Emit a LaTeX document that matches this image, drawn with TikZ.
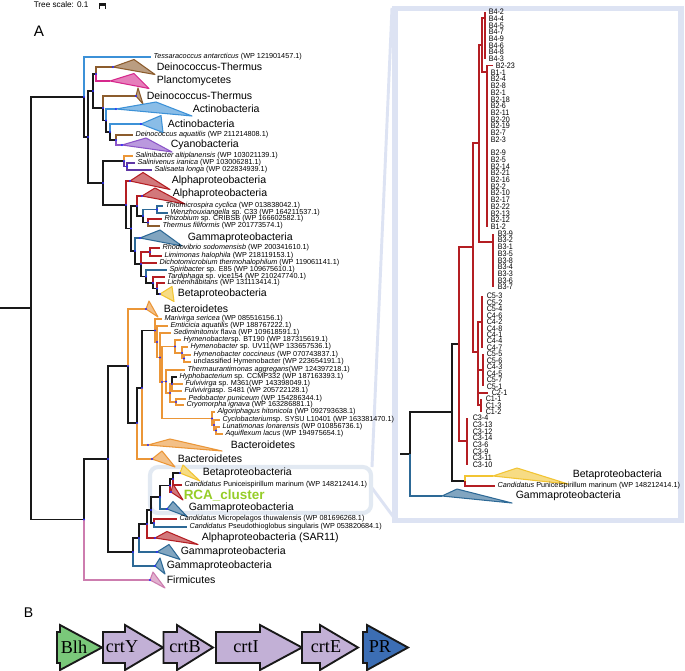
\documentclass[tikz,border=0pt]{standalone}
\usepackage{fontspec}
\setmainfont{Liberation Sans}
\newfontfamily\genefont{Liberation Serif}
\newfontfamily\narrowfont[FakeStretch=0.9]{Liberation Sans}
\usepackage{xcolor}
\usepackage{tikz}
\usetikzlibrary{positioning,calc}

\definecolor{ink}{RGB}{25,25,25}
\definecolor{brn}{RGB}{140,92,45}
\definecolor{pnk}{RGB}{214,40,140}
\definecolor{act}{RGB}{60,145,215}
\definecolor{cya}{RGB}{140,85,200}
\definecolor{pur}{RGB}{95,55,165}
\definecolor{alp}{RGB}{180,30,35}
\definecolor{gam}{RGB}{45,105,150}
\definecolor{bet}{RGB}{242,196,50}
\definecolor{bac}{RGB}{235,150,55}
\definecolor{fir}{RGB}{205,125,175}
\definecolor{rcag}{RGB}{150,205,40}
\definecolor{frm}{RGB}{221,227,243}
\definecolor{boxc}{RGB}{226,233,242}
\definecolor{crt}{RGB}{194,176,214}
\definecolor{blh}{RGB}{122,200,122}
\definecolor{prb}{RGB}{60,110,180}
\definecolor{bsd}{RGB}{40,40,255}

\newcommand{\br}[3]{\draw[#3] (#1) |- (#2);}
\newcommand{\tri}[5]{\filldraw[draw=#5,fill=#5!60,line width=0.9pt,line join=round] (#1) -- ++(#2,-#4) -- ($(#1)+(#3,#4)$) -- cycle;}
\newcommand{\bs}[1]{\fill[bsd] (#1) circle (1.2);}
\newcommand{\gene}[4]{\filldraw[draw=ink,fill=#4,line width=1.6pt] (#1,632) -- (#2,632) -- (#2,625) -- (#3,647.5) -- (#2,670) -- (#2,663) -- (#1,663) -- cycle;}

\begin{document}
\begin{tikzpicture}[x=0.03cm,y=-0.03cm,line width=1.3pt,
  lf/.style={font=\fontsize{6.2}{7}\selectfont,inner sep=0pt},
  cl/.style={font=\fontsize{9}{10}\selectfont,anchor=west,inner sep=0pt},
  rl/.style={font=\narrowfont\fontsize{6.8}{6.8}\selectfont,anchor=west,inner sep=0pt},
  gn/.style={font=\genefont\fontsize{15.5}{16}\selectfont,inner sep=0pt}]
 \fill[white] (0,0) rectangle (685,670);
 \useasboundingbox (0,0) rectangle (685,670);

 \node[font=\fontsize{7}{8}\selectfont,anchor=west,inner sep=0pt] (scl) at (33,5) {Tree scale: 0.1};
 \draw[ink,line width=1.4pt] (99.5,9) -- (99.5,3.5) -- (105.5,3.5) -- (105.5,9);
 \fill[ink] (99.5,2.5) rectangle (105.5,5.5);
 \node[font=\fontsize{13}{14}\selectfont,anchor=west,inner sep=0pt] (pA) at (33,31.5) {A};
 \node[font=\fontsize{12}{13}\selectfont,anchor=west,inner sep=0pt] (pB) at (23,613) {B};

 \draw[frm,line width=2.5pt] (372,467) -- (392,8);
 \draw[frm,line width=2.5pt] (372,488) -- (395,519);
 \draw[frm,line width=5pt] (395,8.5) rectangle (681,520.5);
 \draw[boxc,line width=3.5pt,rounded corners=7pt] (150,467) rectangle (371,513);

 \coordinate (root) at (31,308); \coordinate (rootL) at (0,308);
 \coordinate (U) at (84,97); \coordinate (L) at (84,519.5);
 \draw[ink] (rootL) -- (root);
 \br{root}{U}{ink} \br{root}{L}{ink}
 \coordinate (tess) at (151,57); \coordinate (N2) at (88,137);
 \br{U}{tess}{act} \br{U}{N2}{ink}
 \coordinate (f) at (93,91); \coordinate (N4) at (103,183);
 \br{N2}{f}{ink} \br{N2}{N4}{ink}
 \coordinate (a) at (96,74); \coordinate (g) at (103,108);
 \br{f}{a}{ink} \br{f}{g}{ink}
 \coordinate (deiA) at (113,67); \coordinate (plaA) at (110,81);
 \br{a}{deiA}{brn} \br{a}{plaA}{pnk}
 \coordinate (deiB) at (136,96); \coordinate (e) at (106,120.5);
 \br{g}{deiB}{brn} \br{g}{e}{ink}
 \coordinate (actA) at (116,109); \coordinate (d) at (110,132);
 \br{e}{actA}{act} \br{e}{d}{ink}
 \coordinate (actB) at (141,124); \coordinate (c) at (116,140);
 \br{d}{actB}{act} \br{d}{c}{ink}
 \coordinate (daq) at (133,135); \coordinate (cyaA) at (122,145);
 \br{c}{daq}{brn} \br{c}{cyaA}{cya}

 \coordinate (S) at (124,161); \coordinate (Pr) at (126,205);
 \br{N4}{S}{ink} \br{N4}{Pr}{ink}
 \coordinate (slb) at (133,156); \coordinate (S2) at (127,166.5);
 \br{S}{slb}{bac} \br{S}{S2}{pur}
 \coordinate (slv) at (135,163); \coordinate (sls) at (152,170);
 \br{S2}{slv}{pur} \br{S2}{sls}{pur}
 \coordinate (alpA) at (130,181); \coordinate (Pr2) at (131,228.5);
 \br{Pr}{alpA}{alp} \br{Pr}{Pr2}{ink}
 \coordinate (Pr3) at (137,206); \coordinate (Pr4) at (135,251);
 \br{Pr2}{Pr3}{ink} \br{Pr2}{Pr4}{ink}
 \coordinate (alpB) at (142,196); \coordinate (Pr5) at (143,216);
 \br{Pr3}{alpB}{alp} \br{Pr3}{Pr5}{ink}
 \coordinate (Pr6) at (157,209.5); \coordinate (Pr7) at (148,222.5);
 \br{Pr5}{Pr6}{gam} \br{Pr5}{Pr7}{ink}
 \coordinate (thi) at (163,206); \coordinate (wen) at (168,213);
 \br{Pr6}{thi}{gam} \br{Pr6}{wen}{gam}
 \coordinate (rhi) at (162,219); \coordinate (thf) at (160,226);
 \br{Pr7}{rhi}{alp} \br{Pr7}{thf}{brn}
 \coordinate (gamA) at (140,238); \coordinate (K2) at (141,264);
 \br{Pr4}{gamA}{gam} \br{Pr4}{K2}{ink}
 \coordinate (K1) at (150,252); \coordinate (dic) at (157,263); \coordinate (K3) at (146,276.5);
 \br{K2}{K1}{alp} \br{K2}{dic}{alp} \br{K2}{K3}{ink}
 \coordinate (rho) at (160,248); \coordinate (lim) at (162,256);
 \br{K1}{rho}{alp} \br{K1}{lim}{alp}
 \coordinate (spi) at (167,270); \coordinate (K4) at (153,283);
 \br{K3}{spi}{gam} \br{K3}{K4}{ink}
 \coordinate (tar) at (165,277); \coordinate (K5) at (157,288.5);
 \br{K4}{tar}{alp} \br{K4}{K5}{ink}
 \coordinate (lic) at (165,283); \coordinate (betA) at (160,294);
 \br{K5}{lic}{alp} \br{K5}{betA}{ink}

 \coordinate (M) at (108,459); \coordinate (firA) at (150,580);
 \br{L}{M}{ink} \br{L}{firA}{fir}
 \coordinate (P) at (128,366); \coordinate (V) at (133,552);
 \br{M}{P}{ink} \br{M}{V}{ink}
 \coordinate (bacA) at (146,309); \coordinate (Q) at (137,423);
 \br{P}{bacA}{bac} \br{P}{Q}{ink}
 \coordinate (Sb) at (142,388); \coordinate (bacC) at (152,459);
 \br{Q}{Sb}{ink} \br{Q}{bacC}{bac}
 \coordinate (B1) at (155,330.5); \coordinate (bacB) at (148,445);
 \br{Sb}{B1}{ink} \br{Sb}{bacB}{bac}
 \coordinate (mar) at (162,319); \coordinate (B2) at (157,342);
 \br{B1}{mar}{bac} \br{B1}{B2}{bac}
 \coordinate (emt) at (168,326); \coordinate (B3) at (160,357.5);
 \br{B2}{emt}{bac} \br{B2}{B3}{bac}
 \coordinate (sed) at (171,333); \coordinate (B4) at (162,382);
 \br{B3}{sed}{bac} \br{B3}{B4}{bac}
 \coordinate (H) at (175,346.5); \coordinate (T) at (166,381.5); \coordinate (Ag) at (212,418.5);
 \br{B4}{H}{bac} \br{B4}{T}{bac} \br{B4}{Ag}{bac}
 \coordinate (hyA) at (181,340); \coordinate (H2) at (182,353);
 \br{H}{hyA}{bac} \br{H}{H2}{bac}
 \coordinate (hyB) at (188,347); \coordinate (H3) at (184,358.5);
 \br{H2}{hyB}{bac} \br{H2}{H3}{bac}
 \coordinate (hyC) at (191,355); \coordinate (hyD) at (191,362);
 \br{H3}{hyC}{bac} \br{H3}{hyD}{bac}
 \coordinate (the) at (185,370); \coordinate (T2) at (170,393);
 \br{T}{the}{bac} \br{T}{T2}{bac}
 \coordinate (T3) at (172,384); \coordinate (T4) at (176,402);
 \br{T2}{T3}{bac} \br{T2}{T4}{bac}
 \coordinate (hyp) at (177,377); \coordinate (fuA) at (183,384); \coordinate (fuB) at (182,391);
 \br{T3}{hyp}{ink} \br{T3}{fuA}{bac} \br{T3}{fuB}{bac}
 \coordinate (ped) at (186,399); \coordinate (cry) at (184,405);
 \br{T4}{ped}{bac} \br{T4}{cry}{bac}
 \coordinate (alg) at (215,412); \coordinate (A2) at (214,425);
 \br{Ag}{alg}{bac} \br{Ag}{A2}{bac}
 \coordinate (cyc) at (220,420); \coordinate (A3) at (216,430.5);
 \br{A2}{cyc}{bac} \br{A2}{A3}{bac}
 \coordinate (lun) at (220,427); \coordinate (aqu) at (223,434);
 \br{A3}{lun}{bac} \br{A3}{aqu}{bac}

 \coordinate (W) at (139,538); \coordinate (gamD) at (155,566);
 \br{V}{W}{ink} \br{V}{gamD}{gam}
 \coordinate (X) at (147,524); \coordinate (gamC) at (157,552);
 \br{W}{X}{ink} \br{W}{gamC}{gam}
 \coordinate (C4) at (151,510); \coordinate (sar) at (155,538);
 \br{X}{C4}{ink} \br{X}{sar}{alp}
 \coordinate (C3) at (160,497); \coordinate (C5) at (154,523);
 \br{C4}{C3}{ink} \br{C4}{C5}{ink}
 \coordinate (mic) at (177,519); \coordinate (pse) at (187,527);
 \br{C5}{mic}{alp} \br{C5}{pse}{gam}
 \coordinate (C2) at (170,485.5); \coordinate (gamB) at (167,509);
 \br{C3}{C2}{ink} \br{C3}{gamB}{gam}
 \coordinate (C1) at (173,479); \coordinate (rca) at (171,492);
 \br{C2}{C1}{ink} \br{C2}{rca}{alp}
 \coordinate (betB) at (180,473); \coordinate (pun) at (182,485);
 \br{C1}{betB}{ink} \br{C1}{pun}{alp}

 \tri{deiA}{21}{42}{7.5}{brn}
 \tri{plaA}{24}{39}{7.5}{pnk}
 \tri{deiB}{2}{7}{8}{brn}
 \tri{actA}{40}{76}{7}{act}
 \tri{actB}{20}{22}{8.5}{act}
 \tri{cyaA}{24}{50}{7}{cya}
 \tri{alpA}{13}{40}{8.5}{alp}
 \tri{alpB}{13}{43}{8}{alp}
 \tri{gamA}{20}{42}{8}{gam}
 \tri{betA}{12}{14}{7.5}{bet}
 \tri{bacA}{3}{12}{8}{bac}
 \tri{bacB}{22}{74}{6}{bac}
 \tri{bacC}{10}{23}{8}{bac}
 \tri{betB}{3}{20}{8}{bet}
 \tri{rca}{2}{12}{8}{alp}
 \tri{gamB}{6}{20}{7.5}{gam}
 \tri{sar}{12}{43}{6.5}{alp}
 \tri{gamC}{12}{23}{7.5}{gam}
 \tri{gamD}{5}{10}{8}{gam}
 \tri{firA}{3}{15}{8}{fir}

 \foreach \n in {U,L,N2,f,a,g,e,d,c,N4,S,S2,Pr,Pr2,Pr3,Pr4,Pr5,Pr6,Pr7,K1,K2,K3,K4,K5,
   M,P,Q,Sb,B1,B2,B3,B4,H,H2,H3,T,T2,T3,T4,Ag,A2,A3,V,W,X,C1,C2,C3,C4,C5,
   deiA,deiB,actA,actB,cyaA,alpA,alpB,gamA,betA,bacA,bacB,bacC,betB,rca,gamB,sar,gamC,gamD,firA}
   {\bs{\n}}

 \node[cl] (lDeiA) at (156,67) {Deinococcus-Thermus};
 \node[cl] (lPla) at (156,81) {Planctomycetes};
 \node[cl] (lDeiB) at (146,96) {Deinococcus-Thermus};
 \node[cl] (lActA) at (192,109) {Actinobacteria};
 \node[cl] (lActB) at (167,124) {Actinobacteria};
 \node[cl] (lCya) at (170,145) {Cyanobacteria};
 \node[cl] (lAlpA) at (171,181) {Alphaproteobacteria};
 \node[cl] (lAlpB) at (172,194) {Alphaproteobacteria};
 \node[cl] (lGamA) at (187,238) {Gammaproteobacteria};
 \node[cl] (lBetA) at (177,294) {Betaproteobacteria};
 \node[cl] (lBacA) at (163,309) {Bacteroidetes};
 \node[cl] (lBacB) at (230,445) {Bacteroidetes};
 \node[cl] (lBacC) at (177,459) {Bacteroidetes};
 \node[cl] (lBetB) at (202,473) {Betaproteobacteria};
 \node[cl,font=\fontsize{11.5}{12}\selectfont\bfseries,text=rcag] (lRca) at (183,495) {RCA\_cluster};
 \node[cl] (lGamB) at (188,508) {Gammaproteobacteria};
 \node[cl] (lSar) at (201,538) {Alphaproteobacteria (SAR11)};
 \node[cl] (lGamC) at (180,552) {Gammaproteobacteria};
 \node[cl] (lGamD) at (166,566) {Gammaproteobacteria};
 \node[cl] (lFir) at (166,580) {Firmicutes};

 \node[lf,right=1.5pt of tess] (lTess) {\textit{Tessaracoccus antarcticus} (WP 121901457.1)};
 \node[lf,right=1.5pt of daq] (lDaq) {\textit{Deinococcus aquatilis} (WP 211214808.1)};
 \node[lf,right=1.5pt of slb] (lSlb) {\textit{Salinibacter altiplanensis} (WP 103021139.1)};
 \node[lf,right=1.5pt of slv] (lSlv) {\textit{Salinivenus iranica} (WP 103006281.1)};
 \node[lf,right=1.5pt of sls] (lSls) {\textit{Salisaeta longa} (WP 022834939.1)};
 \node[lf,right=1.5pt of thi] (lThi) {\textit{Thiomicrospira cyclica} (WP 013838042.1)};
 \node[lf,right=1.5pt of wen] (lWen) {\textit{Wenzhouxiangella} sp. C33 (WP 164211537.1)};
 \node[lf,right=1.5pt of rhi] (lRhi) {\textit{Rhizobium} sp. CRIBSB (WP 166602582.1)};
 \node[lf,right=1.5pt of thf] (lThf) {\textit{Thermus filiformis} (WP 201773574.1)};
 \node[lf,right=1.5pt of rho] (lRho) {\textit{Rhodovibrio sodomensisb} (WP 200341610.1)};
 \node[lf,right=1.5pt of lim] (lLim) {\textit{Limimonas halophila} (WP 218119153.1)};
 \node[lf,right=1.5pt of dic] (lDic) {\textit{Dichotomicrobium thermohalophilum} (WP 119061141.1)};
 \node[lf,right=1.5pt of spi] (lSpi) {\textit{Spiribacter} sp. E85 (WP 109675610.1)};
 \node[lf,right=1.5pt of tar] (lTar) {\textit{Tardiphaga} sp. vice154 (WP 210247740.1)};
 \node[lf,right=1.5pt of lic] (lLic) {\textit{Lichenihabitans} (WP 131113414.1)};
 \node[lf,right=1.5pt of mar] (lMar) {\textit{Marivirga sericea} (WP 085516156.1)};
 \node[lf,right=1.5pt of emt] (lEmt) {\textit{Emticicia aquatilis} (WP 188767222.1)};
 \node[lf,right=1.5pt of sed] (lSed) {\textit{Sediminitomix} flava (WP 109618591.1)};
 \node[lf,right=1.5pt of hyA] (lHyA) {\textit{Hymenobacter}sp. BT190 (WP 187315619.1)};
 \node[lf,right=1.5pt of hyB] (lHyB) {\textit{Hymenobacter} sp. UV11(WP 133657536.1)};
 \node[lf,right=1.5pt of hyC] (lHyC) {\textit{Hymenobacter coccineus} (WP 070743837.1)};
 \node[lf,right=1.5pt of hyD] (lHyD) {unclassified Hymenobacter (WP 223654191.1)};
 \node[lf,right=1.5pt of the] (lThe) {\textit{Thermaurantimonas aggregans}(WP 124397218.1)};
 \node[lf,right=1.5pt of hyp] (lHyp) {\textit{Hyphobacterium} sp. CCMP332 (WP 187163393.1)};
 \node[lf,right=1.5pt of fuA] (lFuA) {\textit{Fulvivirga} sp. M361(WP 143398049.1)};
 \node[lf,right=1.5pt of fuB] (lFuB) {\textit{Fulvivirga}sp. S481 (WP 205722128.1)};
 \node[lf,right=1.5pt of ped] (lPed) {\textit{Pedobacter puniceum} (WP 154286344.1)};
 \node[lf,right=1.5pt of cry] (lCry) {\textit{Cryomorpha ignava} (WP 163286881.1)};
 \node[lf,right=1.5pt of alg] (lAlg) {\textit{Algoriphagus hitonicola} (WP 092793638.1)};
 \node[lf,right=1.5pt of cyc] (lCyc) {\textit{Cyclobacterium}sp. SYSU L10401 (WP 163381470.1)};
 \node[lf,right=1.5pt of lun] (lLun) {\textit{Lunatimonas lonarensis} (WP 010856736.1)};
 \node[lf,right=1.5pt of aqu] (lAqu) {\textit{Aquiflexum lacus} (WP 194975654.1)};
 \node[lf,right=1.5pt of pun] (lPun) {\textit{Candidatus} Puniceispirillum marinum (WP 148212414.1)};
 \node[lf,right=1.5pt of mic] (lMic) {\textit{Candidatus} Micropelagos thuwalensis (WP 081696268.1)};
 \node[lf,right=1.5pt of pse] (lPse) {\textit{Candidatus} Pseudothioglobus singularis (WP 053820684.1)};

 \coordinate (rR) at (410,454); \coordinate (rRL) at (400,454);
 \draw[ink] (rRL) -- (rR);
 \coordinate (rK) at (452,412); \coordinate (gamR) at (442,496);
 \br{rR}{rK}{ink} \br{rR}{gamR}{gam}
 \coordinate (rR0) at (459,344); \coordinate (rBP) at (465,481);
 \br{rK}{rR0}{ink} \br{rK}{rBP}{ink}
 \coordinate (betR) at (493,476); \coordinate (punR) at (495,486);
 \br{rBP}{betR}{bet} \br{rBP}{punR}{alp}
 \coordinate (rR1) at (473,247); \coordinate (rC3) at (467,441);
 \br{rR0}{rR1}{alp} \br{rR0}{rC3}{alp}
 \coordinate (rBB) at (479,143); \coordinate (rC) at (478,352);
 \br{rR1}{rBB}{alp} \br{rR1}{rC}{alp}
 \coordinate (rB) at (482,45); \coordinate (rB3) at (493,242);
 \br{rBB}{rB}{alp} \br{rBB}{rB3}{alp}
 \coordinate (rB4) at (485,18); \coordinate (rB2) at (487,72);
 \br{rB}{rB4}{alp} \br{rB}{rB2}{alp}
 \coordinate (rB4t) at (485,12); \coordinate (rB4b) at (485,59);
 \br{rB4}{rB4t}{alp} \br{rB4}{rB4b}{alp}
 \coordinate (b223) at (493,65.6); \coordinate (rB2b) at (487,227);
 \br{rB2}{b223}{alp} \br{rB2}{rB2b}{alp}
 \coordinate (rB3t) at (493,233.5); \coordinate (rB3b) at (493,287);
 \br{rB3}{rB3t}{alp} \br{rB3}{rB3b}{alp}
 \coordinate (rC1) at (482,322); \coordinate (rC2) at (483,370);
 \coordinate (c21) at (488,392.8); \coordinate (rC0) at (481,405);
 \br{rC}{rC1}{alp} \br{rC}{rC2}{alp} \br{rC}{c21}{alp} \br{rC}{rC0}{alp}
 \coordinate (rC1t) at (482,296); \coordinate (rC1b) at (482,347.6);
 \br{rC1}{rC1t}{alp} \br{rC1}{rC1b}{alp}
 \coordinate (rC2t) at (483,354); \coordinate (rC2b) at (483,386.3);
 \br{rC2}{rC2t}{alp} \br{rC2}{rC2b}{alp}
 \coordinate (rC0t) at (481,399); \coordinate (rC0b) at (481,412);
 \br{rC0}{rC0t}{alp} \br{rC0}{rC0b}{alp}
 \coordinate (rC3t) at (467,418); \coordinate (rC3b) at (467,465);
 \br{rC3}{rC3t}{alp} \br{rC3}{rC3b}{alp}
 \tri{betR}{24}{75}{8}{bet}
 \tri{gamR}{15}{70}{7}{gam}

 \foreach \t [count=\i from 0] in {B4-2,B4-4,B4-5,B4-7,B4-9,B4-6,B4-8,B4-3}
   \node[rl] (rb4\i) at (488,{12+6.7*\i}) {\t};
 \node[rl] (rb223) at (495,65.6) {B2-23};
 \foreach \t [count=\i from 0] in {B1-1,B2-4,B2-8,B2-1,B2-18,B2-6,B2-11,B2-20,B2-19,B2-7,B2-3}
   \node[rl] (rba\i) at (490,{72.5+6.7*\i}) {\t};
 \foreach \t [count=\i from 0] in {B2-9,B2-5,B2-14,B2-21,B2-16,B2-2,B2-10,B2-17,B2-22,B2-13,B2-12,B1-2}
   \node[rl] (rbb\i) at (490,{153+6.7*\i}) {\t};
 \foreach \t [count=\i from 0] in {B3-9,B3-2,B3-1,B3-5,B3-8,B3-4,B3-3,B3-6,B3-7}
   \node[rl] (rb3\i) at (497,{233.5+6.7*\i}) {\t};
 \foreach \t/\dx [count=\i from 0] in {C5-3/0,C5-2/0,C5-4/0,C4-6/0,C4-2/0,C4-8/0,C4-1/0,C4-4/0,C4-7/0,
   C5-5/0,C5-6/0,C4-3/0,C4-5/0,C5-7/0,C5-1/0,C2-1/5,C1-1/-1,C1-3/-1,C1-2/-1}
   \node[rl] (rc\i) at ({486+\dx},{296+6.45*\i}) {\t};
 \foreach \t [count=\i from 0] in {C3-4,C3-13,C3-12,C3-14,C3-6,C3-9,C3-11,C3-10}
   \node[rl] (rc3\i) at (472,{418+6.7*\i}) {\t};

 \node[cl] (lBetR) at (572,475) {Betaproteobacteria};
 \node[cl] (lGamR) at (515,496) {Gammaproteobacteria};
 \node[lf,right=1.5pt of punR] (lPunR) {\textit{Candidatus} Puniceispirillum marinum (WP 148212414.1)};

 \gene{57}{60}{102}{blh}
 \gene{103}{125}{163}{crt}
 \gene{163.5}{177}{213}{crt}
 \gene{216}{260}{302}{crt}
 \gene{302}{320}{358}{crt}
 \gene{363}{367}{408}{prb}
 \node[gn] (gBlh) at (74,647) {Blh};
 \node[gn] (gY) at (122,647) {crtY};
 \node[gn] (gB) at (185,647) {crtB};
 \node[gn] (gI) at (246,647) {crtI};
 \node[gn] (gE) at (326,647) {crtE};
 \node[gn] (gPR) at (380,647) {PR};
\end{tikzpicture}
\end{document}
